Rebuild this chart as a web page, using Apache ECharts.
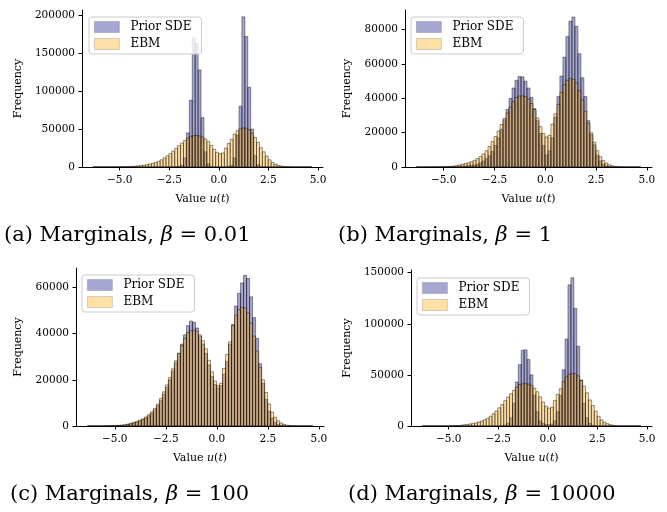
<!DOCTYPE html>
<html>
<head>
<meta charset="utf-8">
<script src="https://cdn.jsdelivr.net/npm/echarts@6/dist/echarts.min.js"></script>
<style>
html, body { margin: 0; padding: 0; background: #fff; }
#chart { width: 667px; height: 512px; }
</style>
</head>
<body>
<div id="chart"></div>
<script>
// 75 bins shared by every histogram
var binStart = -6.35;
var binWidth = 0.1473;

// EBM samples (same in all four panels)
var ebm = [0, 0, 0, 10, 20, 30, 50, 80, 120, 180,
  260, 370, 500, 800, 1200, 1600, 2000, 2500, 3100, 3900,
  4900, 6100, 7600, 9500, 12000, 14800, 17800, 21000, 24800, 28300,
  31500, 34800, 38000, 40500, 41300, 41500, 41000, 39500, 37000, 33500,
  28500, 23500, 19500, 17500, 18500, 25000, 31000, 36500, 43500, 48000,
  50500, 51500, 51200, 49000, 44500, 39000, 32500, 25500, 20000, 14500,
  9500, 6000, 3800, 2300, 1300, 700, 350, 150, 60, 20,
  0, 0, 0, 0, 0];

// Prior SDE, beta = 0.01
var priorA = [0, 0, 0, 0, 0, 0, 0, 0, 0, 0,
  0, 0, 0, 0, 0, 0, 0, 0, 0, 0,
  0, 0, 0, 0, 0, 0, 0, 100, 300, 800,
  2500, 12000, 45000, 88000, 170000, 163000, 128000, 65000, 20000, 4000,
  600, 80, 0, 0, 0, 50, 300, 2000, 12000, 42000,
  80000, 198000, 172000, 105000, 50000, 15000, 3000, 400, 50, 0,
  0, 0, 0, 0, 0, 0, 0, 0, 0, 0,
  0, 0, 0, 0, 0];

// Prior SDE, beta = 1
var priorB = [0, 0, 0, 0, 0, 0, 0, 0, 10, 20,
  30, 60, 100, 160, 250, 380, 550, 750, 1000, 1200,
  1700, 2400, 3500, 4800, 6500, 9000, 12500, 17000, 22000, 27500,
  33500, 40000, 46000, 50500, 52700, 52500, 50000, 46000, 40500, 34000,
  27000, 19500, 12500, 7000, 9500, 17000, 29000, 41000, 53000, 64000,
  76000, 85000, 87400, 82000, 66000, 52000, 41000, 27000, 19000, 13000,
  7000, 3500, 1600, 700, 280, 100, 30, 0, 0, 0,
  0, 0, 0, 0, 0];

// Prior SDE, beta = 100
var priorC = [0, 0, 0, 0, 10, 20, 30, 50, 80, 130,
  200, 300, 430, 650, 950, 1300, 1700, 2200, 2800, 3500,
  4400, 5500, 7000, 8800, 11000, 13800, 16800, 20000, 23800, 27500,
  31500, 35500, 39500, 43500, 45500, 45000, 42500, 39000, 35500, 31500,
  26500, 21500, 18000, 16500, 17500, 22500, 28000, 35500, 44000, 52000,
  57500, 62000, 65300, 64000, 56000, 47000, 38000, 27000, 18500, 11500,
  6500, 3300, 1500, 600, 250, 100, 40, 10, 0, 0,
  0, 0, 0, 0, 0];

// Prior SDE, beta = 10000
var priorD = [0, 0, 0, 0, 0, 0, 0, 0, 0, 0,
  0, 0, 0, 0, 0, 0, 0, 0, 0, 0,
  0, 0, 0, 0, 0, 30, 80, 250, 800, 2500,
  8000, 22000, 43000, 60000, 74000, 74500, 65000, 50000, 30000, 14000,
  5000, 2500, 1500, 1200, 2000, 5000, 14000, 30000, 55000, 85000,
  138000, 145000, 115000, 78000, 45000, 22000, 8000, 2500, 700, 150,
  30, 0, 0, 0, 0, 0, 0, 0, 0, 0,
  0, 0, 0, 0, 0];

var xTicks = [-5, -2.5, 0, 2.5, 5];
var yTicksA = [0, 50000, 100000, 150000, 200000];
var yTicksB = [0, 20000, 40000, 60000, 80000];
var yTicksC = [0, 20000, 40000, 60000];
var yTicksD = [0, 50000, 100000, 150000];

var captions = ['(a) Marginals, {i|β} = 0.01', '(b) Marginals, {i|β} = 1',
  '(c) Marginals, {i|β} = 100', '(d) Marginals, {i|β} = 10000'];

var font = 'DejaVu Serif';
var priorFill = 'rgba(0,0,128,0.35)';
var ebmFill = 'rgba(255,165,0,0.35)';
var edge = 'rgba(0,0,0,0.42)';

var panels = [
  {grid: {left: 82, top: 10, width: 241, height: 157}, ymax: 207000, ticks: yTicksA, prior: priorA, gap: 58, legend: {left: 89, top: 17}, cap: [4, 237]},
  {grid: {left: 405, top: 10, width: 247, height: 157}, ymax: 91500, ticks: yTicksB, prior: priorB, gap: 52, legend: {left: 411, top: 17}, cap: [338, 237]},
  {grid: {left: 76, top: 268, width: 248, height: 158}, ymax: 68500, ticks: yTicksC, prior: priorC, gap: 52, legend: {left: 82, top: 275}, cap: [10, 496]},
  {grid: {left: 411, top: 270, width: 241, height: 156}, ymax: 152600, ticks: yTicksD, prior: priorD, gap: 58, legend: {left: 417, top: 278}, cap: [348, 496]}
];

function toBins(values) {
  return values.map(function (v, i) {
    return [binStart + i * binWidth, binStart + (i + 1) * binWidth, v];
  });
}

function barRenderer(fill) {
  return function (params, api) {
    var top = api.coord([api.value(0), api.value(2)]);
    var base = api.coord([api.value(1), 0]);
    return {
      type: 'rect',
      shape: {x: top[0], y: top[1], width: base[0] - top[0], height: base[1] - top[1]},
      style: {fill: fill, stroke: edge, lineWidth: 1}
    };
  };
}

function fmtX(v) {
  return (v < 0 ? '\u2212' : '') + Math.abs(v).toFixed(1);
}

function fmtY(v) {
  return String(Math.round(v));
}

var grids = [], xAxes = [], yAxes = [], series = [], legends = [], graphics = [];

panels.forEach(function (p, k) {
  grids.push(p.grid);
  xAxes.push({
    type: 'value', gridIndex: k, min: -6.9, max: 5.25,
    name: '{r|Value }{i|u}{r|(}{i|t}{r|)}', nameLocation: 'middle', nameGap: 27,
    nameTextStyle: {rich: {
      r: {fontFamily: font, fontSize: 11, color: '#000'},
      i: {fontFamily: font, fontSize: 11, fontStyle: 'italic', color: '#000'}
    }},
    axisLine: {onZero: false, lineStyle: {color: '#000', width: 1}},
    axisTick: {length: 3.5, lineStyle: {color: '#000'}, customValues: xTicks},
    axisLabel: {customValues: xTicks, formatter: fmtX, fontFamily: font, fontSize: 10.5, color: '#000', margin: 8},
    splitLine: {show: false}
  });
  yAxes.push({
    type: 'value', gridIndex: k, min: 0, max: p.ymax,
    name: 'Frequency', nameLocation: 'middle', nameRotate: 90, nameGap: p.gap,
    nameTextStyle: {fontFamily: font, fontSize: 11, color: '#000'},
    axisLine: {show: true, onZero: false, lineStyle: {color: '#000', width: 1}},
    axisTick: {show: true, length: 3.5, lineStyle: {color: '#000'}, customValues: p.ticks},
    axisLabel: {customValues: p.ticks, formatter: fmtY, fontFamily: font, fontSize: 10.5, color: '#000', margin: 7},
    splitLine: {show: false}
  });
  series.push({
    name: 'Prior SDE', type: 'custom', xAxisIndex: k, yAxisIndex: k,
    renderItem: barRenderer(priorFill),
    itemStyle: {color: priorFill, borderColor: 'rgba(0,0,0,0.2)', borderWidth: 0.8},
    encode: {x: [0, 1], y: 2},
    data: toBins(p.prior)
  });
  series.push({
    name: 'EBM', type: 'custom', xAxisIndex: k, yAxisIndex: k,
    renderItem: barRenderer(ebmFill),
    itemStyle: {color: ebmFill, borderColor: 'rgba(0,0,0,0.2)', borderWidth: 0.8},
    encode: {x: [0, 1], y: 2},
    data: toBins(ebm)
  });
  legends.push({
    data: ['Prior SDE', 'EBM'], orient: 'vertical',
    left: p.legend.left, top: p.legend.top,
    itemWidth: 25, itemHeight: 11, itemGap: 5, icon: 'rect',
    itemStyle: {borderColor: 'rgba(0,0,0,0.2)', borderWidth: 0.8},
    padding: [4, 10, 4, 5],
    backgroundColor: 'rgba(255,255,255,0.8)', borderColor: '#cccccc', borderWidth: 1, borderRadius: 3,
    textStyle: {fontFamily: font, fontSize: 12, color: '#000', lineHeight: 12, padding: [0, 0, 0, 6]},
    selectedMode: false, z: 10
  });
  graphics.push({
    type: 'text', left: p.cap[0], top: p.cap[1] - 12,
    style: {
      text: captions[k], fontFamily: font, fontSize: 21, fill: '#000',
      rich: {i: {fontFamily: font, fontSize: 21, fontStyle: 'italic', fill: '#000'}}
    }
  });
});

var chart = echarts.init(document.getElementById('chart'));
chart.setOption({
  animation: false,
  backgroundColor: '#fff',
  grid: grids,
  xAxis: xAxes,
  yAxis: yAxes,
  legend: legends,
  series: series,
  graphic: graphics
});
</script>
</body>
</html>
